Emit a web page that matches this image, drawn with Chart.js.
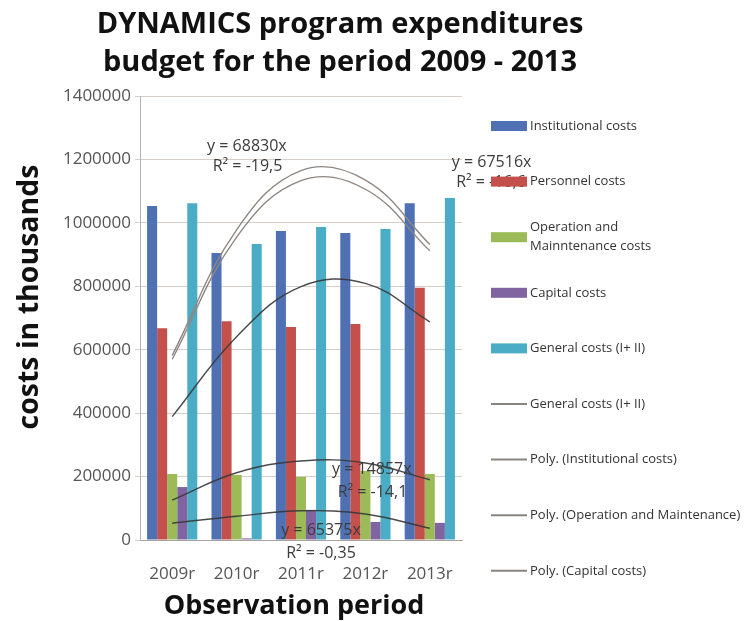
<!DOCTYPE html>
<html>
<head>
<meta charset="utf-8">
<script src="https://cdn.jsdelivr.net/npm/chart.js@4"></script>
<style>
html,body{margin:0;padding:0;background:#fff;}
#wrap{width:744px;height:621px;position:relative;}
</style>
</head>
<body>
<div id="wrap"><canvas id="c" width="744" height="621"></canvas></div>
<script>
// ---------------- DATA ----------------
const categories = ['2009r', '2010r', '2011r', '2012r', '2013r'];
const institutional = [1053000, 905000, 974000, 968000, 1062000];
const personnel     = [668000, 690000, 672000, 681000, 795000];
const operation     = [208000, 205000, 199000, 218000, 208000];
const capital       = [167000, 5000, 95000, 57000, 54000];
const general       = [1062000, 933000, 987000, 981000, 1078000];
// trend curves at each period
const trendGeneralA     = [582000, 978000, 1165000, 1135000, 932000];
const trendGeneralB     = [570000, 955000, 1133000, 1106000, 912000];
const polyInstitutional = [389000, 641000, 799000, 809000, 688000];
const polyOperation     = [126000, 212000, 249000, 243000, 190000];
const polyCapital       = [53000, 75000, 92000, 82000, 37000];
const yTickValues = [0, 200000, 400000, 600000, 800000, 1000000, 1200000, 1400000];
const seriesLabels = ['Institutional costs', 'Personnel costs', 'Operation and\nMainntenance costs',
  'Capital costs', 'General costs (I+ II)', 'General costs (I+ II)', 'Poly. (Institutional costs)',
  'Poly. (Operation and Maintenance)', 'Poly. (Capital costs)'];
const trendTexts = ['y = 68830x', 'R\u00B2 = -19,5', 'y = 67516x', 'R\u00B2 = -16,6',
  'y = 14857x', 'R\u00B2 = -14,1', 'y = 65375x', 'R\u00B2 = -0,35'];

// ---------------- STYLE ----------------
const FONT = "'Open Sans', 'DejaVu Sans', sans-serif";
const C_BLUE = '#4f70b3', C_RED = '#c4504c', C_GREEN = '#9bbb59', C_PURPLE = '#8064a2', C_TEAL = '#4bacc6';
const C_LINE = 'rgba(55,55,55,0.9)', C_DOUBLE = '#8e8782';

// anchors for trendline equation labels in data coordinates (category index, value)
const trendAnchors = [
  [1.16, 1242000], [1.17, 1179000], [4.96, 1189000], [4.95, 1129000],
  [3.10, 221000], [3.11, 151000], [2.31, 31500], [2.31, -41000]
];

function bar(label, data, color) {
  return { type: 'bar', label, data, backgroundColor: color, borderWidth: 0,
    barPercentage: 1.0, categoryPercentage: 0.78, order: 1 };
}
function line(label, data, color, width, noLegend) {
  return { type: 'line', label, data, borderColor: color, borderWidth: width,
    pointRadius: 0, tension: 0.4, fill: false, order: -1, noLegend: !!noLegend };
}

const datasets = [
  bar(seriesLabels[0], institutional, C_BLUE),
  bar(seriesLabels[1], personnel, C_RED),
  bar(seriesLabels[2], operation, C_GREEN),
  bar(seriesLabels[3], capital, C_PURPLE),
  bar(seriesLabels[4], general, C_TEAL),
  line(seriesLabels[5], trendGeneralA, C_DOUBLE, 1.4),
  line('Poly. (General costs (I+ II))', trendGeneralB, C_DOUBLE, 1.4, true),
  line(seriesLabels[6], polyInstitutional, C_LINE, 1.4),
  line(seriesLabels[7], polyOperation, C_LINE, 1.4),
  line(seriesLabels[8], polyCapital, C_LINE, 1.4)
];

const decorPlugin = {
  id: 'decor',
  afterDatasetsDraw(chart) {
    const ctx = chart.ctx, xs = chart.scales.x, ys = chart.scales.y;
    ctx.save();
    ctx.fillStyle = '#3c3c3c';
    ctx.font = '16px ' + FONT;
    ctx.textAlign = 'center';
    ctx.textBaseline = 'middle';
    trendTexts.forEach((t, i) => {
      const a = trendAnchors[i];
      ctx.fillText(t, xs.getPixelForValue(a[0]), ys.getPixelForValue(a[1]));
    });
    ctx.restore();
  },
  afterDraw(chart) {
    const ctx = chart.ctx;
    ctx.save();
    // main title
    ctx.fillStyle = '#111';
    ctx.textAlign = 'center';
    ctx.textBaseline = 'alphabetic';
    ctx.font = 'bold 29px ' + FONT;
    ctx.fillText('DYNAMICS program expenditures', 340, 33);
    ctx.fillText('budget for the period 2009 - 2013', 340, 71);
    // y axis title
    ctx.save();
    ctx.translate(30, 297);
    ctx.rotate(-Math.PI / 2);
    ctx.textBaseline = 'middle';
    ctx.font = 'bold 28.5px ' + FONT;
    ctx.fillText('costs in thousands', 0, 0);
    ctx.restore();
    // x axis title
    ctx.textBaseline = 'middle';
    ctx.font = 'bold 27px ' + FONT;
    ctx.fillText('Observation period', 294, 606);

    // legend
    const items = chart.data.datasets.filter(d => !d.noLegend);
    const x0 = 491, bw = 36, y0 = 126, step = 55.6;
    ctx.font = '13px ' + FONT;
    ctx.textAlign = 'left';
    ctx.textBaseline = 'middle';
    items.forEach((d, i) => {
      const cy = y0 + i * step;
      if (d.type === 'bar') {
        ctx.fillStyle = d.backgroundColor;
        ctx.fillRect(x0, cy - 5, bw, 10);
      } else {
        ctx.strokeStyle = '#8a8480';
        ctx.lineWidth = 2;
        ctx.beginPath();
        ctx.moveTo(x0, cy);
        ctx.lineTo(x0 + bw, cy);
        ctx.stroke();
      }
      ctx.fillStyle = '#333';
      const lines = d.label.split('\n');
      const lh = 19;
      lines.forEach((ln, k) => {
        ctx.fillText(ln, x0 + bw + 3, cy + (k - (lines.length - 1) / 2) * lh);
      });
    });
    ctx.restore();
  }
};

new Chart(document.getElementById('c'), {
  data: { labels: categories, datasets },
  options: {
    responsive: false,
    animation: false,
    layout: { padding: { left: 0, right: 282, top: 96, bottom: 0 } },
    plugins: { legend: { display: false }, tooltip: { enabled: false }, title: { display: false } },
    scales: {
      x: {
        grid: { display: false, drawTicks: false },
        border: { display: true, color: '#aaa39e', width: 1 },
        ticks: { padding: 24, color: '#555', font: { family: FONT, size: 17 } },
        afterFit(s) { s.height = 81; }
      },
      y: {
        min: 0, max: 1400000,
        afterBuildTicks(s) { s.ticks = yTickValues.map(v => ({ value: v })); },
        ticks: { padding: 4, color: '#555', font: { family: FONT, size: 17 }, callback: v => String(v) },
        grid: { color: '#d6cfca', lineWidth: 1, tickLength: 5 },
        border: { display: true, color: '#b9b2ad', width: 1 },
        afterFit(s) { s.width = 140; }
      }
    }
  },
  plugins: [decorPlugin]
});
</script>
</body>
</html>
